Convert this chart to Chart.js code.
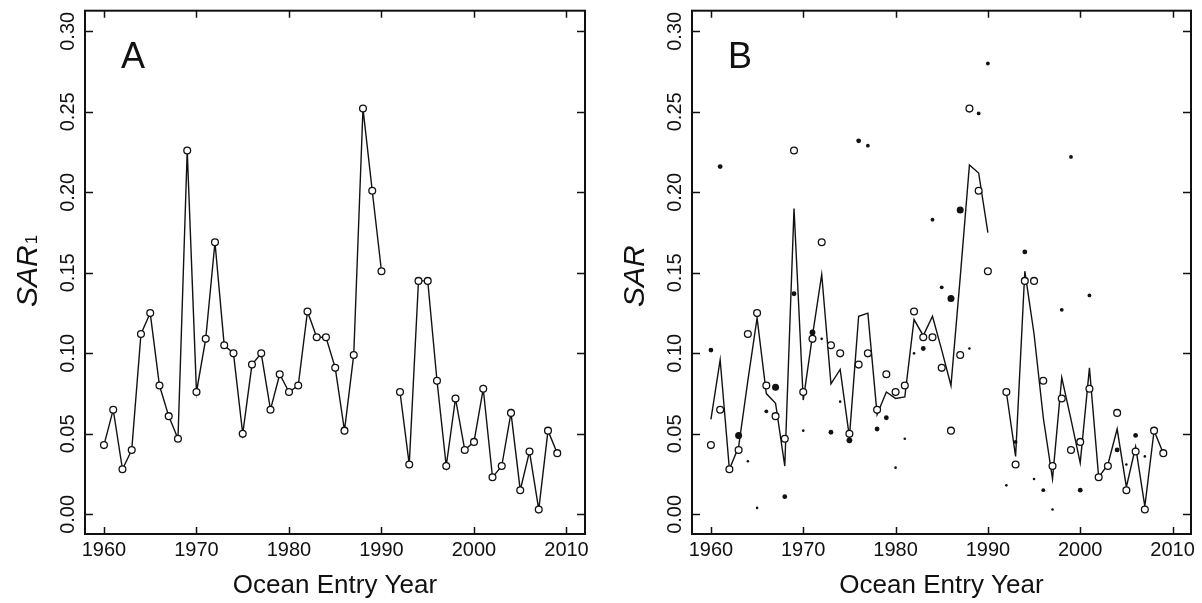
<!DOCTYPE html>
<html>
<head>
<meta charset="utf-8">
<script src="https://cdn.jsdelivr.net/npm/chart.js@4/dist/chart.umd.min.js"></script>
<style>
  html, body { margin: 0; padding: 0; background: #fff; }
  .panel { position: absolute; top: 0; }
  #panelA { left: 0; }
  #panelB { left: 607px; }
</style>
</head>
<body>
<div class="panel" id="panelA"><canvas id="chartA" width="600" height="603"></canvas></div>
<div class="panel" id="panelB"><canvas id="chartB" width="595" height="603"></canvas></div>
<script>
// ocean entry years 1960-2009 (no data for 1991)
const years = [];
for (let yr = 1960; yr <= 2009; yr++) years.push(yr);

// SAR1, open circles (panel A, repeated in B)
const sar1 = [
  0.043, 0.065, 0.028, 0.040, 0.112, 0.125, 0.080, 0.061, 0.047, 0.226,
  0.076, 0.109, 0.169, 0.105, 0.100, 0.050, 0.093, 0.100, 0.065, 0.087,
  0.076, 0.080, 0.126, 0.110, 0.110, 0.091, 0.052, 0.099, 0.252, 0.201,
  0.151, null,  0.076, 0.031, 0.145, 0.145, 0.083, 0.030, 0.072, 0.040,
  0.045, 0.078, 0.023, 0.030, 0.063, 0.015, 0.039, 0.003, 0.052, 0.038
];

// combined SAR estimate, solid line in B
const sarLine = [
  0.059, 0.096, 0.028, 0.042, 0.083, 0.122, 0.075, 0.069, 0.030, 0.190,
  0.071, 0.111, 0.149, 0.081, 0.090, 0.048, 0.123, 0.125, 0.062, 0.076,
  0.072, 0.073, 0.121, 0.111, 0.123, 0.102, 0.080, 0.147, 0.217, 0.212,
  0.175, null,  0.076, 0.036, 0.151, 0.112, 0.060, 0.022, 0.085, 0.059,
  0.032, 0.091, 0.023, 0.031, 0.053, 0.017, 0.042, 0.005, 0.052, 0.038
];

// other SAR estimates, solid dots in B; weight 1 (smallest) .. 5 (largest)
const sarDots = [
  0.102, 0.216, null,  0.049, 0.033, 0.004, 0.064, 0.079, 0.011, 0.137,
  0.052, 0.113, 0.109, 0.051, 0.070, 0.046, 0.232, 0.229, 0.053, 0.060,
  0.029, 0.047, 0.100, 0.103, 0.183, 0.141, 0.134, 0.189, 0.103, 0.249,
  0.280, null,  0.018, 0.045, 0.163, 0.022, 0.015, 0.003, 0.127, 0.222,
  0.015, 0.136, null,  null,  0.040, 0.031, 0.049, 0.036, null,  null
];
const dotWeight = [
  3, 3, 0, 5, 1, 1, 2, 5, 3, 3,
  1, 4, 1, 3, 1, 4, 3, 2, 3, 3,
  1, 1, 1, 3, 2, 2, 5, 5, 1, 2,
  2, 0, 1, 2, 3, 1, 2, 1, 2, 2,
  3, 2, 0, 0, 3, 1, 3, 1, 0, 0
];

const xTicksStep = 10;
const yTicksStep = 0.05;

const FONT = "'Liberation Sans', Arial, Helvetica, sans-serif";
const INK = '#111';
const dotRadius = [0, 1.3, 1.9, 2.4, 2.9, 3.5];

// inward ticks on all four sides, frame, panel letter and y title
const panelDeco = {
  id: 'panelDeco',
  afterDatasetsDraw(chart, args, opts) {
    const {ctx, chartArea: a} = chart;
    const x = chart.scales.x, y = chart.scales.y;
    ctx.save();
    ctx.strokeStyle = INK;
    ctx.lineWidth = 1.5;
    ctx.beginPath();
    x.ticks.forEach(t => {
      const px = Math.round(x.getPixelForValue(t.value)) + 0.5;
      ctx.moveTo(px, a.bottom); ctx.lineTo(px, a.bottom - 7);
      ctx.moveTo(px, a.top); ctx.lineTo(px, a.top + 7);
    });
    y.ticks.forEach(t => {
      const py = Math.round(y.getPixelForValue(t.value)) + 0.5;
      ctx.moveTo(a.left, py); ctx.lineTo(a.left + 8, py);
      ctx.moveTo(a.right, py); ctx.lineTo(a.right - 8, py);
    });
    ctx.stroke();
    ctx.lineWidth = 2;
    ctx.strokeRect(a.left, a.top, a.right - a.left, a.bottom - a.top);

    ctx.fillStyle = INK;
    ctx.font = '36px ' + FONT;
    ctx.textBaseline = 'alphabetic';
    ctx.textAlign = 'left';
    ctx.fillText(opts.letter, a.left + 36, 68.3);

    // rotated y title: italic SAR with upright subscript
    ctx.translate(37, (a.top + a.bottom) / 2 + 34.7);
    ctx.rotate(-Math.PI / 2);
    ctx.font = 'italic 30px ' + FONT;
    ctx.fillText('SAR', 0, 0);
    if (opts.sub) {
      const w = ctx.measureText('SAR').width;
      ctx.font = '17px ' + FONT;
      ctx.fillText(opts.sub, w + 1, 0);
    }
    ctx.restore();
  }
};

function scalesCfg() {
  return {
    x: {
      type: 'linear',
      min: 1957.95,
      max: 2012,
      grid: { display: false, drawTicks: false },
      border: { display: false },
      ticks: {
        stepSize: xTicksStep,
        includeBounds: false,
        autoSkip: false,
        maxRotation: 0,
        padding: 4.5,
        color: INK,
        font: { family: FONT, size: 20 },
        callback: v => String(v)
      },
      title: {
        display: true,
        text: 'Ocean Entry Year',
        color: INK,
        font: { family: FONT, size: 26 },
        padding: { top: 0, bottom: 1.6 }
      },
      afterFit: s => { s.height = 69; }
    },
    y: {
      type: 'linear',
      min: -0.0122,
      max: 0.3128,
      grid: { display: false, drawTicks: false },
      border: { display: false },
      ticks: {
        stepSize: yTicksStep,
        includeBounds: false,
        minRotation: 90,
        maxRotation: 90,
        crossAlign: 'center',
        padding: -2.45,
        color: INK,
        font: { family: FONT, size: 20 },
        callback: v => v.toFixed(2)
      },
      afterFit: s => { s.width = 85; }
    }
  };
}

function baseOptions(letter, sub, rightPad) {
  return {
    responsive: false,
    animation: false,
    events: [],
    layout: { autoPadding: false, padding: { left: 0, right: rightPad, top: 10.7, bottom: 0 } },
    plugins: {
      legend: { display: false },
      tooltip: { enabled: false },
      panelDeco: { letter: letter, sub: sub }
    },
    scales: scalesCfg()
  };
}

const circleSet = (withLine) => ({
  label: 'SAR1',
  data: years.map((yr, i) => ({ x: yr, y: sar1[i] })),
  showLine: withLine,
  spanGaps: false,
  borderColor: INK,
  borderWidth: 1.4,
  tension: 0,
  fill: false,
  pointRadius: 3.4,
  pointBorderWidth: 1.3,
  pointBorderColor: INK,
  pointBackgroundColor: '#fff'
});

new Chart(document.getElementById('chartA'), {
  type: 'line',
  data: { datasets: [circleSet(true)] },
  options: baseOptions('A', '1', 15),
  plugins: [panelDeco]
});

const dotData = [];
years.forEach((yr, i) => {
  if (sarDots[i] !== null) dotData.push({ x: yr, y: sarDots[i], w: dotWeight[i] });
});

new Chart(document.getElementById('chartB'), {
  type: 'line',
  data: {
    datasets: [
      {
        label: 'other estimates',
        data: dotData,
        showLine: false,
        pointRadius: c => dotRadius[c.raw ? c.raw.w : 0],
        pointBorderWidth: 0,
        pointBackgroundColor: INK,
        pointBorderColor: INK
      },
      circleSet(false),
      {
        label: 'SAR',
        data: years.map((yr, i) => ({ x: yr, y: sarLine[i] })),
        spanGaps: false,
        borderColor: INK,
        borderWidth: 1.4,
        tension: 0,
        fill: false,
        pointRadius: 0
      }
    ]
  },
  options: baseOptions('B', null, 11),
  plugins: [panelDeco]
});
</script>
</body>
</html>
